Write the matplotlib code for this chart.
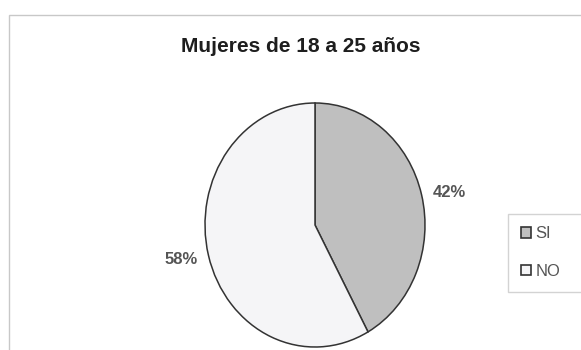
import matplotlib
matplotlib.use("Agg")
import matplotlib.pyplot as plt
from matplotlib.patches import Rectangle

# Survey answers for women aged 18-25
labels = ["SI", "NO"]
shares = [42, 58]
colors = ["#bfbfbf", "#f5f5f7"]

plt.rcParams['font.family'] = ['Liberation Sans', 'DejaVu Sans']

W, H = 581, 350
fig = plt.figure(figsize=(W / 100, H / 100), dpi=100)
fig.patch.set_facecolor("white")

# chart area border (runs off the right and bottom edges)
fig.patches.append(Rectangle((9 / W, -0.1), 1.2, 1 - 15.5 / H + 0.1,
                             transform=fig.transFigure, fill=False,
                             edgecolor="#c8c8c8", linewidth=1.0))

fig.text(301 / W, 1 - 46 / H, "Mujeres de 18 a 25 años", ha="center", va="center",
         fontsize=15, fontweight="bold", color="#1e1e1e")

# pie is slightly taller than wide
cx, cy, rx, ry = 315, 225, 110, 122
ax = fig.add_axes([(cx - rx) / W, 1 - (cy + ry) / H, 2 * rx / W, 2 * ry / H])
wedges, _ = ax.pie(shares, colors=colors, startangle=90, counterclock=False,
                   wedgeprops=dict(edgecolor="#333333", linewidth=1.1))
ax.set_aspect("auto")
ax.set_xlim(-1, 1)
ax.set_ylim(-1, 1)

# percentage labels outside the wedges
fig.text(449 / W, 1 - 193 / H, f"{shares[0]}%", ha="center", va="center",
         fontsize=12, fontweight="bold", color="#555555")
fig.text(181 / W, 1 - 260 / H, f"{shares[1]}%", ha="center", va="center",
         fontsize=12, fontweight="bold", color="#555555")

handles = [Rectangle((0, 0), 1, 1, facecolor=c, edgecolor="#333333", linewidth=1.2)
           for c in colors]
leg = fig.legend(handles, labels, loc="upper left",
                 bbox_to_anchor=(508 / W, 1 - 295 / H, 0.2, 81 / H), mode="expand",
                 frameon=True, fancybox=False, fontsize=12, labelcolor="#555555",
                 handlelength=0.6, handleheight=0.6, handletextpad=0.3,
                 labelspacing=1.35, borderpad=0.75, borderaxespad=0)
leg.get_frame().set_edgecolor("#c8c8c8")
leg.get_frame().set_linewidth(1.0)

fig.savefig("out.png", dpi=100)
